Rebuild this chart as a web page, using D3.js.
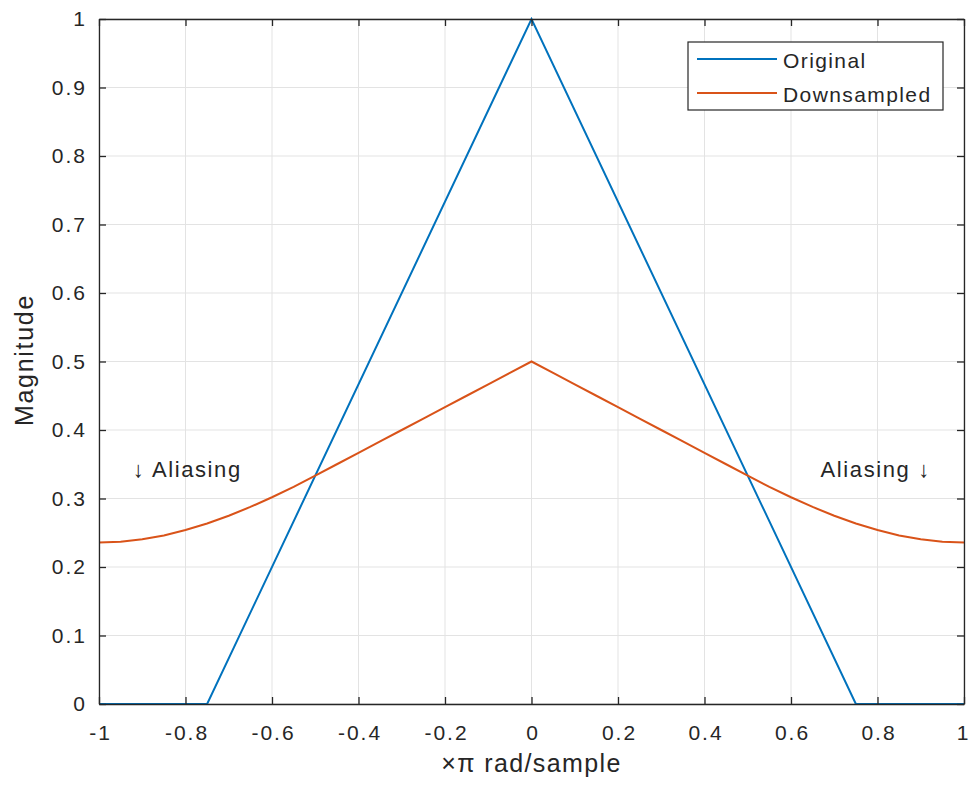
<!DOCTYPE html>
<html><head><meta charset="utf-8">
<script src="https://cdn.jsdelivr.net/npm/d3@7"></script>
<style>body{margin:0;background:#fff}svg{display:block}text{font-family:"Liberation Sans",Arial,sans-serif;fill:#262626}</style>
</head><body>
<script>
// Original (triangle) spectrum
const origX = [-1, -0.75, 0, 0.75, 1];
const origY = [0, 0, 1, 0, 0];
// Downsampled spectrum, read at x = -1 .. 1 step 0.05
const downX = [-1,-0.95,-0.9,-0.85,-0.8,-0.75,-0.7,-0.65,-0.6,-0.55,-0.5,-0.45,-0.4,-0.35,-0.3,-0.25,-0.2,-0.15,-0.1,-0.05,0,
  0.05,0.1,0.15,0.2,0.25,0.3,0.35,0.4,0.45,0.5,0.55,0.6,0.65,0.7,0.75,0.8,0.85,0.9,0.95,1];
const downY = [0.2357,0.2369,0.2404,0.2461,0.2539,0.2635,0.2749,0.2877,0.3018,0.3171,0.3333,0.35,0.3667,0.3833,0.4,0.4167,0.4333,0.45,0.4667,0.4833,0.5,
  0.4833,0.4667,0.45,0.4333,0.4167,0.4,0.3833,0.3667,0.35,0.3333,0.3171,0.3018,0.2877,0.2749,0.2635,0.2539,0.2461,0.2404,0.2369,0.2357];
const xTicks = [-1,-0.8,-0.6,-0.4,-0.2,0,0.2,0.4,0.6,0.8,1];
const xTickLabels = ["-1","-0.8","-0.6","-0.4","-0.2","0","0.2","0.4","0.6","0.8","1"];
const yTicks = [0,0.1,0.2,0.3,0.4,0.5,0.6,0.7,0.8,0.9,1];
const yTickLabels = ["0","0.1","0.2","0.3","0.4","0.5","0.6","0.7","0.8","0.9","1"];
const seriesNames = ["Original","Downsampled"];
const seriesColors = ["#0072BD","#D95319"];
const annotations = [{x:-0.7958, y:0.35, text:"\u2193 Aliasing"},{x:0.7958, y:0.35, text:"Aliasing \u2193"}];

const W=969,H=787;
const L=99,R=964,T=19,B=704;
const svg=d3.select("body").append("svg").attr("width",W).attr("height",H);
const x=d3.scaleLinear().domain([-1,1]).range([L,R]);
const y=d3.scaleLinear().domain([0,1]).range([B,T]);
const axisCol="#262626";
const FONT="Liberation Sans, Arial, sans-serif";

// grid
const g=svg.append("g");
g.selectAll(".gx").data(xTicks).enter().append("line")
 .attr("x1",d=>x(d)).attr("x2",d=>x(d)).attr("y1",T).attr("y2",B)
 .attr("stroke","#e3e3e3").attr("stroke-width",1);
g.selectAll(".gy").data(yTicks).enter().append("line")
 .attr("y1",d=>y(d)).attr("y2",d=>y(d)).attr("x1",L).attr("x2",R)
 .attr("stroke","#e3e3e3").attr("stroke-width",1);

// lines
const line=d3.line().x(d=>x(d[0])).y(d=>y(d[1]));
svg.append("path").datum(origX.map((v,i)=>[v,origY[i]])).attr("d",line)
 .attr("fill","none").attr("stroke",seriesColors[0]).attr("stroke-width",2);
svg.append("path").datum(downX.map((v,i)=>[v,downY[i]])).attr("d",line)
 .attr("fill","none").attr("stroke",seriesColors[1]).attr("stroke-width",2);

// axes
const tl=7;
const ax=svg.append("g").attr("transform",`translate(0,${B})`).call(d3.axisBottom(x).tickValues(xTicks).tickFormat((d,i)=>xTickLabels[i]).tickSizeInner(-tl).tickSizeOuter(0).tickPadding(21));
const axT=svg.append("g").attr("transform",`translate(0,${T})`).call(d3.axisTop(x).tickValues(xTicks).tickFormat("").tickSizeInner(-tl).tickSizeOuter(0));
const ay=svg.append("g").attr("transform",`translate(${L},0)`).call(d3.axisLeft(y).tickValues(yTicks).tickFormat((d,i)=>yTickLabels[i]).tickSizeInner(-tl).tickSizeOuter(0).tickPadding(12));
const ayR=svg.append("g").attr("transform",`translate(${R},0)`).call(d3.axisRight(y).tickValues(yTicks).tickFormat("").tickSizeInner(-tl).tickSizeOuter(0));
[ax,axT,ay,ayR].forEach(a=>{a.select(".domain").attr("stroke",axisCol).attr("stroke-width",1.3);a.selectAll(".tick line").attr("stroke",axisCol).attr("stroke-width",1.3);
 a.selectAll("text").style("font-family",FONT).style("font-size","21px").style("letter-spacing","2px").attr("fill",axisCol);});
ax.selectAll("text").attr("dy","0.71em").attr("dx","1px");
// last x label sits at the figure edge
ax.selectAll(".tick text").filter(d=>d===1).attr("dx","-2px").style("letter-spacing","0px");

// axis labels
svg.append("text").attr("x",(L+R)/2).attr("y",772).attr("text-anchor","middle").style("font-size","25px").style("letter-spacing","1.4px").text("\u00d7\u03c0 rad/sample");
svg.append("text").attr("transform",`translate(33,${360}) rotate(-90)`).attr("text-anchor","middle").style("font-size","25px").style("letter-spacing","1.7px").text("Magnitude");

// annotations
svg.selectAll(".ann").data(annotations).enter().append("text")
 .attr("x",d=>x(d.x)).attr("y",d=>y(d.y)+13).attr("text-anchor","middle").style("font-size","22px").style("letter-spacing","1.6px").text(d=>d.text);

// legend
const lg=svg.append("g");
lg.append("rect").attr("x",688).attr("y",42).attr("width",255).attr("height",68).attr("fill","#fff").attr("stroke",axisCol).attr("stroke-width",1.2);
seriesNames.forEach((n,i)=>{
  const yy=59+i*34;
  lg.append("line").attr("x1",697).attr("x2",777).attr("y1",yy).attr("y2",yy).attr("stroke",seriesColors[i]).attr("stroke-width",2);
  lg.append("text").attr("x",783).attr("y",yy+9).style("font-size","21px").style("letter-spacing","1.4px").text(n);
});
</script>
</body></html>
